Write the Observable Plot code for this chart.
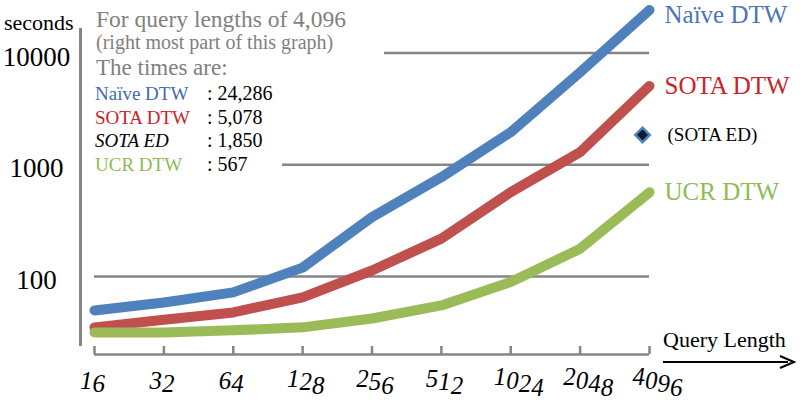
<!DOCTYPE html>
<html>
<head>
<meta charset="utf-8">
<script src="https://cdn.jsdelivr.net/npm/d3@7"></script>
<script src="https://cdn.jsdelivr.net/npm/@observablehq/plot@0.6"></script>
<style>
  html, body { margin: 0; padding: 0; background: #fff; }
  #chart { position: relative; width: 800px; height: 402px; }
  #chart svg { display: block; }
  #chart svg text { font-family: 'Liberation Serif', 'Times New Roman', serif; }
</style>
</head>
<body>
<div id="chart"></div>
<script>
// ---- data ----
const queryLengths = [16, 32, 64, 128, 256, 512, 1024, 2048, 4096];
const naiveDTW = [49.6, 58.5, 72, 120, 340, 774, 1959, 6745, 24286];
const sotaDTW  = [35, 41, 47.6, 65, 113, 218, 569, 1297, 5078];
const ucrDTW   = [31.5, 31.5, 32.9, 35, 42, 55, 89, 177, 567];
const sotaED   = 1850;
const seriesNames = ["Naïve DTW", "SOTA DTW", "UCR DTW"];
const seriesColors = ["#4f81bd", "#c0504d", "#9bbb59"];
const labelColors = ["#4a74b4", "#c8242b", "#8fbb52"];
const yTicks = [100, 1000, 10000];
const yDomain = [20, 16600];
const noteLines = ["For query lengths of 4,096", "(right most part of this graph)", "The times are:"];
const legendNames = ["Naïve DTW", "SOTA DTW", "SOTA ED", "UCR DTW"];
const legendValues = [": 24,286", ": 5,078", ": 1,850", ": 567"];
const legendColors = ["#3f6bae", "#cc2229", "#000000", "#8dba52"];

// ---- tidy table ----
const seriesValues = [naiveDTW, sotaDTW, ucrDTW];
const rows = [];
seriesValues.forEach((vals, s) => vals.forEach((v, i) => rows.push({series: seriesNames[s], x: queryLengths[i], y: v})));
const last = queryLengths[queryLengths.length - 1];
const ends = seriesNames.map((name, s) => ({series: name, x: last, y: seriesValues[s][seriesValues[s].length - 1], color: labelColors[s]}));
const drawOrder = ["Naïve DTW", "SOTA DTW", "UCR DTW"];

const font = "'Liberation Serif', 'Times New Roman', serif";
const gray = "#858585";

const plot = Plot.plot({
  width: 800,
  height: 402,
  marginTop: 28,
  marginBottom: 48,
  marginLeft: 80,
  marginRight: 151,
  style: {fontFamily: font, background: "#fff", overflow: "visible"},
  x: {type: "log", base: 2, domain: [16, 4096], insetLeft: 14},
  y: {type: "log", domain: yDomain},
  marks: [
    Plot.ruleY(yTicks, {stroke: gray, strokeWidth: 2.5, insetLeft: 14}),
    Plot.ruleX([queryLengths[0]], {dx: -14, insetBottom: 8, stroke: gray, strokeWidth: 3}),
    Plot.ruleY([yDomain[0]], {insetLeft: 14, stroke: gray, strokeWidth: 2.5}),
    Plot.ruleX(queryLengths, {insetTop: 318, stroke: gray, strokeWidth: 2.5}),
    Plot.axisX({ticks: queryLengths, label: null, tickSize: 0, tickPadding: 18, fontSize: 25, fontFamily: font, tickFormat: d => String(d), fill: "#000"}),
    Plot.axisY({ticks: yTicks, label: null, tickSize: 0, tickPadding: 44, textAnchor: "middle", fontSize: 27, fontFamily: font, dy: 4, tickFormat: d => String(d), fill: "#000"}),
    ...drawOrder.map(name => Plot.line(rows.filter(r => r.series === name), {
      x: "x", y: "y", stroke: seriesColors[seriesNames.indexOf(name)], strokeWidth: 10,
      strokeLinecap: "round", strokeLinejoin: "round"
    })),
    Plot.text(ends.slice(0, 1), {x: "x", y: "y", text: "series", fill: "color", dx: 15, dy: 5, textAnchor: "start", fontSize: 25, fontFamily: font}),
    Plot.text(ends.slice(1), {x: "x", y: "y", text: "series", fill: "color", dx: 15, dy: 0, textAnchor: "start", fontSize: 25, fontFamily: font}),
    Plot.dot([{x: last, y: sotaED}], {x: "x", y: "y", symbol: "diamond2", r: 6.5, fill: "#0d1a33", stroke: "#4f81bd", strokeWidth: 2.5, dx: -7}),
    Plot.text([{x: last, y: sotaED, t: "(SOTA ED)"}], {x: "x", y: "y", text: "t", dx: 18, textAnchor: "start", fontSize: 19, fontFamily: font, fill: "#000", ariaLabel: "sota-ed-label"})
  ]
});

document.getElementById("chart").appendChild(plot);
const svg = d3.select(plot);
svg.attr("font-family", font);

// staircase italic x tick labels
svg.selectAll('g[aria-label="x-axis tick label"] text').each(function() {
  const t = d3.select(this);
  const s = t.text();
  t.text(null).attr("font-style", "italic");
  const step = 3.5;
  const n = s.length;
  for (let i = 0; i < n; i++) {
    const ts = t.append("tspan").attr("dy", i === 0 ? -(n - 1) / 2 * step : step).text(s[i]);
    if (i === 0) ts.attr("dx", (n - 2) * 5 - 2);
  }
});

// (SOTA ED) with italic middle
svg.selectAll('g[aria-label="sota-ed-label"] text').each(function() {
  const t = d3.select(this);
  t.text(null);
  t.append("tspan").text("(");
  t.append("tspan").attr("font-style", "italic").text("SOTA ED");
  t.append("tspan").text(")");
});

// annotations
const ann = svg.append("g").attr("font-family", font).attr("text-anchor", "start");
ann.append("text").attr("x", 4).attr("y", 30).attr("font-size", 22).attr("fill", "#000").text("seconds");

// note box (white, covers grid lines)
ann.append("rect").attr("x", 86).attr("y", 0).attr("width", 298).attr("height", 82).attr("fill", "#fff");
ann.append("rect").attr("x", 86).attr("y", 82).attr("width", 196).attr("height", 96).attr("fill", "#fff");
const noteSizes = [23.5, 20, 23];
const noteY = [27, 49, 75];
noteLines.forEach((s, i) => {
  ann.append("text").attr("x", 96).attr("y", noteY[i]).attr("font-size", noteSizes[i]).attr("fill", "#808080").text(s);
});
legendNames.forEach((s, i) => {
  const y = 100 + i * 23.5;
  ann.append("text").attr("x", 95).attr("y", y).attr("font-size", 19).attr("fill", legendColors[i])
    .attr("font-style", s === "SOTA ED" ? "italic" : null).text(s);
  ann.append("text").attr("x", 207).attr("y", y).attr("font-size", 20).attr("fill", "#000").text(legendValues[i]);
});

// Query Length arrow
ann.append("text").attr("x", 663).attr("y", 347).attr("font-size", 22).attr("fill", "#000").text("Query Length");
ann.append("line").attr("x1", 663).attr("x2", 788).attr("y1", 362).attr("y2", 362).attr("stroke", "#000").attr("stroke-width", 2);
ann.append("path").attr("d", "M780,356 L794,362 L780,368").attr("fill", "none").attr("stroke", "#000").attr("stroke-width", 2);
</script>
</body>
</html>
